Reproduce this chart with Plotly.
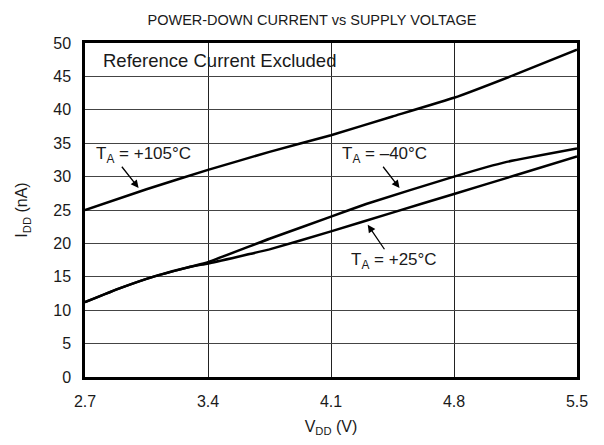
import plotly.graph_objects as go

# Data
v_105 = [2.7, 3.05, 3.4, 3.75, 4.1, 4.45, 4.8, 5.15, 5.5]
i_105 = [25.0, 28.1, 31.0, 33.7, 36.2, 39.0, 41.8, 45.3, 49.0]

v_m40 = [2.7, 2.9, 3.1, 3.3, 3.4, 3.75, 4.1, 4.3, 4.8, 5.1, 5.5]
i_m40 = [11.2, 13.3, 15.1, 16.5, 17.2, 20.7, 24.0, 25.9, 30.0, 32.2, 34.2]

v_25 = [2.7, 2.9, 3.1, 3.3, 3.4, 3.75, 4.1, 4.45, 4.8, 5.15, 5.5]
i_25 = [11.2, 13.3, 15.1, 16.5, 17.0, 19.1, 21.8, 24.6, 27.4, 30.2, 33.0]

x_ticks = [2.7, 3.4, 4.1, 4.8, 5.5]
y_ticks = [0, 5, 10, 15, 20, 25, 30, 35, 40, 45, 50]

FONT = "Liberation Sans, Arial, sans-serif"
TXT = "#1a1a1a"

fig = go.Figure()
for vx, iy, name in [(v_105, i_105, "+105°C"), (v_m40, i_m40, "-40°C"), (v_25, i_25, "+25°C")]:
    fig.add_trace(go.Scatter(x=vx, y=iy, mode="lines", name=name,
                             line=dict(color="black", width=2.5, shape="spline", smoothing=0.3),
                             showlegend=False))

annotations = [
    dict(x=2.79, y=47.4, text="Reference Current Excluded", showarrow=False,
         xanchor="left", yanchor="middle", font=dict(size=18.5)),
    dict(x=2.75, y=33.3, text="T<sub>A</sub> = +105°C", showarrow=False,
         xanchor="left", yanchor="middle", font=dict(size=17)),
    dict(x=4.15, y=33.3, text="T<sub>A</sub> = –40°C", showarrow=False,
         xanchor="left", yanchor="middle", font=dict(size=17)),
    dict(x=4.2, y=17.3, text="T<sub>A</sub> = +25°C", showarrow=False,
         xanchor="left", yanchor="middle", font=dict(size=17)),
]
arrows = [
    ((3.005, 28.3), (2.903, 31.7)),
    ((4.49, 28.3), (4.39, 31.7)),
    ((4.309, 22.8), (4.41, 18.9)),
]
for (hx, hy), (tx, ty) in arrows:
    annotations.append(dict(x=hx, y=hy, ax=tx, ay=ty, axref="x", ayref="y",
                            xref="x", yref="y", text="", showarrow=True,
                            arrowhead=2, arrowsize=1.2, arrowwidth=1.3, arrowcolor="black"))

# page body has an 8px default margin, so the figure is 8px smaller and offset
W, H = 596, 437
fig.update_layout(
    width=W, height=H,
    margin=dict(l=73, r=27, t=35, b=66),
    paper_bgcolor="white", plot_bgcolor="white",
    font=dict(family=FONT, color=TXT, size=16),
    title=dict(text="POWER-DOWN CURRENT vs SUPPLY VOLTAGE", x=304 / W, xref="container",
               xanchor="center", y=1 - 12 / H, yref="container", yanchor="middle",
               font=dict(size=14.5, family=FONT, color=TXT)),
    annotations=annotations,
)
fig.update_xaxes(range=[2.7, 5.5], tickvals=x_ticks, ticktext=[f"{t:.1f}" for t in x_ticks],
                 showgrid=True, gridcolor="#222", gridwidth=1,
                 showline=True, linecolor="black", linewidth=2.5, mirror=True,
                 ticks="", zeroline=False, ticklabelstandoff=8,
                 tickfont=dict(size=16),
                 title=dict(text="V<sub>DD</sub> (V)", standoff=12, font=dict(size=16)))
fig.update_yaxes(range=[0, 50], tickvals=y_ticks,
                 showgrid=True, gridcolor="#444", gridwidth=1,
                 showline=True, linecolor="black", linewidth=2.5, mirror=True,
                 ticks="", zeroline=False, ticklabelstandoff=8,
                 tickfont=dict(size=16),
                 title=dict(text="I<sub>DD</sub> (nA)", standoff=22, font=dict(size=16)))

fig.write_html("out.html")
